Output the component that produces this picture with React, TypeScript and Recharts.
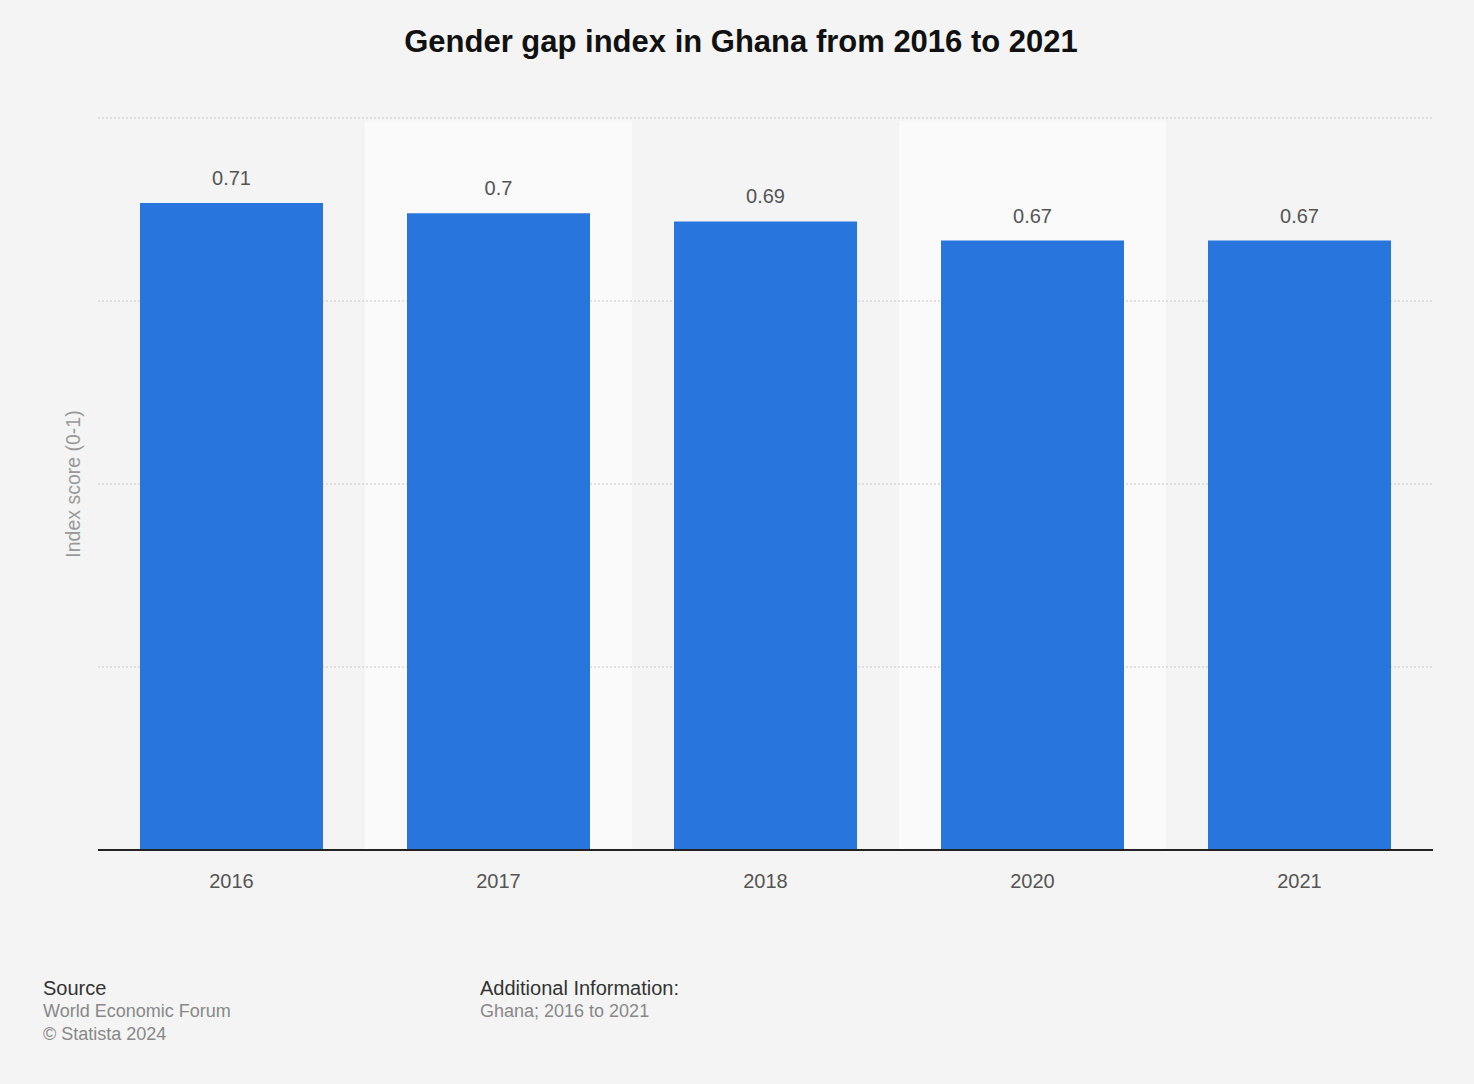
import React from "react";
import { BarChart, Bar, XAxis, YAxis, CartesianGrid, ReferenceArea, LabelList } from "recharts";

const years = ["2016", "2017", "2018", "2020", "2021"];
const scores = [0.707, 0.696, 0.687, 0.666, 0.666];
const yTicks = [0, 0.2, 0.4, 0.6, 0.8];
const bandedYears = ["2017", "2020"];

const data = years.map((y, i) => ({ year: y, score: scores[i] }));
const FONT = "'Liberation Sans', Arial, Helvetica, sans-serif";

const fmt = (v: any) => String(Number(Number(v).toFixed(2)));

export default function App() {
  const areaProps: any = { zIndex: -150 };
  return (
    <div style={{ position: "absolute", left: 0, top: 0, width: 1474, height: 1084, background: "#f4f4f4", fontFamily: FONT, overflow: "hidden" }}>
      <div style={{ position: "absolute", left: 0, width: 1482, top: 22, textAlign: "center", fontSize: 31, fontWeight: "bold", color: "#111", lineHeight: "40px" }}>
        Gender gap index in Ghana from 2016 to 2021
      </div>
      <div style={{ position: "absolute", left: 73, top: 484, transform: "translate(-50%, -50%) rotate(-90deg)", whiteSpace: "nowrap", fontSize: 19.5, color: "#999" }}>
        Index score (0-1)
      </div>
      <div style={{ position: "absolute", left: 0, top: 0 }}>
        <BarChart width={1474} height={1084} data={data} margin={{ top: 118, right: 41, left: 98, bottom: 204 }}>
          {bandedYears.map((y) => (
            <ReferenceArea key={y} x1={y} x2={y} y1={0} y2={0.797} fill="#fafafa" fillOpacity={1} stroke="none" ifOverflow="hidden" {...areaProps} />
          ))}
          <CartesianGrid vertical={false} stroke="#c8c8c8" strokeDasharray="2 2" />
          <XAxis dataKey="year" height={30} tickLine={false} axisLine={{ stroke: "#222", strokeWidth: 2 }} tick={{ fill: "#555", fontSize: 20, fontFamily: FONT }} tickMargin={18} />
          <YAxis hide domain={[0, 0.8]} ticks={yTicks} />
          <Bar dataKey="score" fill="#2876dd" barSize={183} isAnimationActive={false}>
            <LabelList dataKey="score" position="top" offset={18} formatter={fmt} style={{ fill: "#555", fontSize: 20, fontFamily: FONT }} />
          </Bar>
        </BarChart>
      </div>
      <div style={{ position: "absolute", left: 43, top: 977, fontSize: 20, lineHeight: "23px" }}>
        <div style={{ color: "#333" }}>Source</div>
        <div style={{ color: "#888", fontSize: 18 }}>World Economic Forum</div>
        <div style={{ color: "#888", fontSize: 18 }}>© Statista 2024</div>
      </div>
      <div style={{ position: "absolute", left: 480, top: 977, fontSize: 20, lineHeight: "23px" }}>
        <div style={{ color: "#333" }}>Additional Information:</div>
        <div style={{ color: "#888", fontSize: 18 }}>Ghana; 2016 to 2021</div>
      </div>
    </div>
  );
}
